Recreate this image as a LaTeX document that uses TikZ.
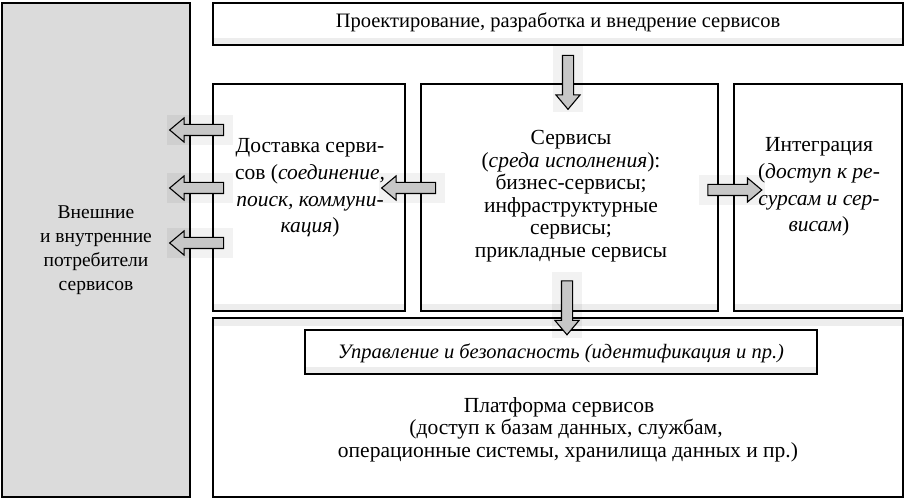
\documentclass[tikz,border=0pt]{standalone}
\usepackage{fontspec}
\setmainfont{Liberation Serif}
\usetikzlibrary{shapes.arrows}
\tikzset{
  box/.style={draw=black, line width=1.6pt, fill=white, inner sep=0pt,
    path picture={\fill[black!7] (path picture bounding box.south west) rectangle ([yshift=7pt]path picture bounding box.south east);}},
  graybox/.style={draw=black, line width=1.6pt, fill=black!14, inner sep=0pt},
  txt/.style={align=center, inner sep=0pt},
  barrow/.style={single arrow, draw=black, line width=1.1pt, fill=black!22,
    minimum height=54pt, minimum width=23pt, inner sep=5pt,
    single arrow head extend=6.5pt, single arrow tip angle=80},
  halo/.style={fill=black, opacity=0.05, inner sep=0pt}
}
\begin{document}
\begin{tikzpicture}[x=1pt, y=-1pt]
\useasboundingbox (0,0) rectangle (906,500);
% boxes
\node[graybox, minimum width=188pt, minimum height=494pt] (cons) at (96,250) {};
\node[box, minimum width=690pt, minimum height=42pt] (top) at (558,24) {};
\node[box, minimum width=192pt, minimum height=227pt] (deliv) at (309,197.5) {};
\node[box, minimum width=297pt, minimum height=227pt] (serv) at (569.5,197.5) {};
\node[box, minimum width=168pt, minimum height=227pt] (integ) at (818,197.5) {};
\node[draw=black, line width=1.6pt, fill=white, minimum width=690pt, minimum height=179pt,
  path picture={\fill[black!7] ([yshift=-8pt]path picture bounding box.north west) rectangle (path picture bounding box.north east);}] (plat) at (558,407.5) {};
\node[box, minimum width=512pt, minimum height=44pt] (mgmt) at (561,352) {};
% texts
\node[txt, font=\fontsize{19.5}{24}\selectfont] (tcons) at (96,250) {Внешние\\и внутренние\\потребители\\сервисов};
\node[txt, font=\fontsize{20.5}{22.5}\selectfont] (ttop) at (558,22) {Проектирование, разработка и внедрение сервисов};
\node[txt, font=\fontsize{21.5}{26.7}\selectfont] (tdeliv) at (310,188) {Доставка серви-\\сов (\textit{соединение,}\\\textit{поиск, коммуни-}\\\textit{кация})};
\node[txt, font=\fontsize{21.5}{22.5}\selectfont] (tserv) at (571,196) {Сервисы\\(\textit{среда исполнения}):\\бизнес-сервисы;\\инфраструктурные\\сервисы;\\прикладные сервисы};
\node[txt, font=\fontsize{21.5}{26.7}\selectfont] (tinteg) at (819,187) {Интеграция\\(\textit{доступ к ре-}\\\textit{сурсам и сер-}\\\textit{висам})};
\node[txt, font=\fontsize{20.5}{22.5}\selectfont] (tmgmt) at (561,353) {\textit{Управление и безопасность (идентификация и пр.)}};
\node[txt, font=\fontsize{21.5}{22.5}\selectfont] (tplat) at (568,429.5) {Платформа сервисов\kern18pt\\(доступ к базам данных, службам,\kern4pt\\операционные системы, хранилища данных и пр.)};
% halos
\foreach \x/\y/\w/\h [count=\i] in {200/130/66/30, 200/188/66/30, 200/243/66/30, 412/188/66/30, 731.5/190/66/30, 568/79/30/66, 567/304.5/30/66}
  \node[halo, minimum width=\w pt, minimum height=\h pt] (h\i) at (\x,\y) {};
% block arrows
\node[barrow, shape border rotate=180] (a1) at (200,130) {};
\node[barrow, shape border rotate=180] (a2) at (200,188) {};
\node[barrow, shape border rotate=180] (a3) at (200,243) {};
\node[barrow, shape border rotate=180] (a4) at (412,188) {};
\node[barrow, shape border rotate=0] (a5) at (731.5,190) {};
\node[barrow, shape border rotate=270] (a6) at (568,79) {};
\node[barrow, shape border rotate=270] (a7) at (567,304.5) {};
\end{tikzpicture}
\end{document}
